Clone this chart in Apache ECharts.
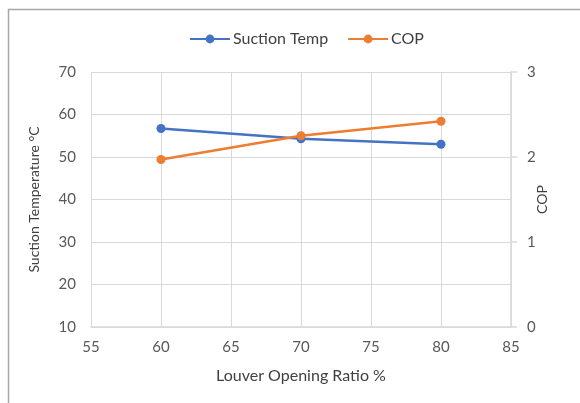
<!DOCTYPE html>
<html>
<head>
<meta charset="utf-8">
<script src="https://cdn.jsdelivr.net/npm/echarts@6/dist/echarts.min.js"></script>
<style>
  html, body { margin: 0; padding: 0; background: #fff; }
  #chart { width: 580px; height: 403px; }
</style>
</head>
<body>
<div id="chart"></div>
<script>
// louver opening ratio (%)
var openingRatio = [60, 70, 80];
// suction temperature (°C)
var suctionTemp = [56.7, 54.3, 53.0];
// coefficient of performance
var cop = [1.97, 2.25, 2.42];

var font = 'Lato, "Open Sans", sans-serif';
var labelColor = '#595959';
var gridColor = '#d9d9d9';

var myChart = echarts.init(document.getElementById('chart'));
myChart.setOption({
  animation: false,
  backgroundColor: '#fff',
  textStyle: { fontFamily: font },
  graphic: [
    {
      // outer chart frame
      type: 'rect',
      shape: { x: 8.5, y: 9.5, width: 600, height: 420 },
      style: { fill: null, stroke: '#a6a6a6', lineWidth: 1.5 },
      silent: true
    }
  ],
  legend: {
    top: 26,
    left: 184,
    itemWidth: 40,
    itemHeight: 11,
    itemGap: 19,
    textStyle: { fontFamily: font, fontSize: 16, color: '#404040', padding: [0, 0, 0, -2] },
    data: ['Suction Temp', 'COP']
  },
  grid: {
    left: 91,
    right: 69,
    top: 72,
    bottom: 76
  },
  xAxis: {
    type: 'value',
    min: 55,
    max: 85,
    interval: 5,
    name: 'Louver Opening Ratio %',
    nameLocation: 'middle',
    nameGap: 41,
    nameTextStyle: { fontFamily: font, fontSize: 16, color: '#404040' },
    axisLine: { show: true, lineStyle: { color: gridColor, width: 1.5 } },
    axisTick: { show: false },
    axisLabel: { fontFamily: font, fontSize: 15, color: labelColor, margin: 13 },
    splitLine: { show: true, lineStyle: { color: gridColor, width: 1 } }
  },
  yAxis: [
    {
      type: 'value',
      min: 10,
      max: 70,
      interval: 10,
      name: 'Suction Temperature °C',
      nameLocation: 'middle',
      nameRotate: 90,
      nameGap: 50,
      nameMoveOverlap: false,
      nameTextStyle: { fontFamily: font, fontSize: 14, color: '#404040' },
      axisLine: { show: false },
      axisTick: { show: false },
      axisLabel: { fontFamily: font, fontSize: 15, color: labelColor, margin: 15 },
      splitLine: { show: true, lineStyle: { color: gridColor, width: 1 } }
    },
    {
      type: 'value',
      min: 0,
      max: 3,
      interval: 1,
      position: 'right',
      name: 'COP',
      nameLocation: 'middle',
      nameRotate: 90,
      nameGap: 24,
      nameMoveOverlap: false,
      nameTextStyle: { fontFamily: font, fontSize: 14, color: '#404040' },
      axisLine: { show: true, lineStyle: { color: gridColor, width: 1.5 } },
      axisTick: { show: true, length: 6, lineStyle: { color: gridColor, width: 1.5 } },
      axisLabel: { fontFamily: font, fontSize: 15, color: labelColor, margin: 16 },
      splitLine: { show: false }
    }
  ],
  series: [
    {
      name: 'Suction Temp',
      type: 'line',
      yAxisIndex: 0,
      data: openingRatio.map(function (x, i) { return [x, suctionTemp[i]]; }),
      symbol: 'circle',
      symbolSize: 9,
      lineStyle: { color: '#4472c4', width: 2.5 },
      itemStyle: { color: '#4472c4' }
    },
    {
      name: 'COP',
      type: 'line',
      yAxisIndex: 1,
      data: openingRatio.map(function (x, i) { return [x, cop[i]]; }),
      symbol: 'circle',
      symbolSize: 9,
      lineStyle: { color: '#ed7d31', width: 2.5 },
      itemStyle: { color: '#ed7d31' }
    }
  ]
});
window.onresize = function () {
  myChart.resize();
};
</script>
</body>
</html>
